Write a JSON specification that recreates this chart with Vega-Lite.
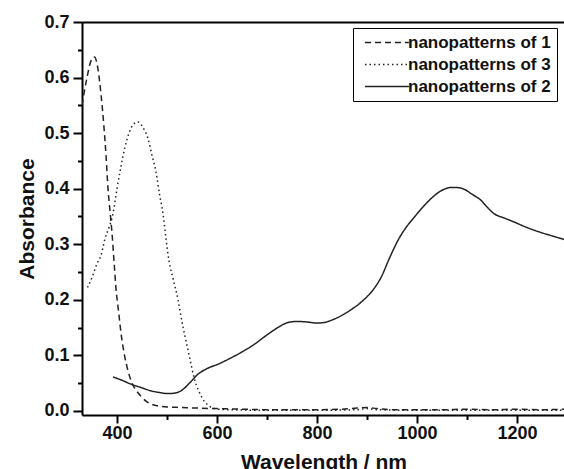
{
  "$schema": "https://vega.github.io/schema/vega-lite/v6.json",
  "width": 483,
  "height": 393,
  "autosize": {"type": "none"},
  "padding": {"left": 82, "top": 22, "right": 0, "bottom": 54},
  "background": "white",
  "config": {
    "view": {"stroke": null},
    "axis": {
      "grid": false,
      "domainColor": "black",
      "domainWidth": 2,
      "tickColor": "black",
      "tickWidth": 2,
      "labelFont": "Liberation Sans",
      "labelFontWeight": "bold",
      "labelFontSize": 18,
      "labelColor": "#111",
      "titleFont": "Liberation Sans",
      "titleFontWeight": "bold",
      "titleFontSize": 21,
      "titleColor": "#111"
    },
    "legend": {
      "labelFont": "Liberation Sans",
      "labelFontWeight": "bold",
      "labelFontSize": 17,
      "labelColor": "#111"
    }
  },
  "data": {
    "values": [
      {"series": "nanopatterns of 1", "wl": 330, "abs": 0.55},
      {"series": "nanopatterns of 1", "wl": 340, "abs": 0.60},
      {"series": "nanopatterns of 1", "wl": 348, "abs": 0.63},
      {"series": "nanopatterns of 1", "wl": 355, "abs": 0.637},
      {"series": "nanopatterns of 1", "wl": 362, "abs": 0.615},
      {"series": "nanopatterns of 1", "wl": 368, "abs": 0.57},
      {"series": "nanopatterns of 1", "wl": 374, "abs": 0.51},
      {"series": "nanopatterns of 1", "wl": 378, "abs": 0.46},
      {"series": "nanopatterns of 1", "wl": 382, "abs": 0.40},
      {"series": "nanopatterns of 1", "wl": 386, "abs": 0.36},
      {"series": "nanopatterns of 1", "wl": 390, "abs": 0.32},
      {"series": "nanopatterns of 1", "wl": 394, "abs": 0.27},
      {"series": "nanopatterns of 1", "wl": 398, "abs": 0.22},
      {"series": "nanopatterns of 1", "wl": 403, "abs": 0.18},
      {"series": "nanopatterns of 1", "wl": 408, "abs": 0.14},
      {"series": "nanopatterns of 1", "wl": 415, "abs": 0.10},
      {"series": "nanopatterns of 1", "wl": 422, "abs": 0.072},
      {"series": "nanopatterns of 1", "wl": 430, "abs": 0.05},
      {"series": "nanopatterns of 1", "wl": 440, "abs": 0.035},
      {"series": "nanopatterns of 1", "wl": 448, "abs": 0.026},
      {"series": "nanopatterns of 1", "wl": 460, "abs": 0.016},
      {"series": "nanopatterns of 1", "wl": 472, "abs": 0.011},
      {"series": "nanopatterns of 1", "wl": 482, "abs": 0.009},
      {"series": "nanopatterns of 1", "wl": 500, "abs": 0.007},
      {"series": "nanopatterns of 1", "wl": 530, "abs": 0.006},
      {"series": "nanopatterns of 1", "wl": 560, "abs": 0.005},
      {"series": "nanopatterns of 1", "wl": 600, "abs": 0.004},
      {"series": "nanopatterns of 1", "wl": 650, "abs": 0.003},
      {"series": "nanopatterns of 1", "wl": 700, "abs": 0.002},
      {"series": "nanopatterns of 1", "wl": 750, "abs": 0.002},
      {"series": "nanopatterns of 1", "wl": 800, "abs": 0.002},
      {"series": "nanopatterns of 1", "wl": 850, "abs": 0.003},
      {"series": "nanopatterns of 1", "wl": 880, "abs": 0.005},
      {"series": "nanopatterns of 1", "wl": 900, "abs": 0.006},
      {"series": "nanopatterns of 1", "wl": 920, "abs": 0.004},
      {"series": "nanopatterns of 1", "wl": 950, "abs": 0.002},
      {"series": "nanopatterns of 1", "wl": 1000, "abs": 0.002},
      {"series": "nanopatterns of 1", "wl": 1050, "abs": 0.002},
      {"series": "nanopatterns of 1", "wl": 1100, "abs": 0.003},
      {"series": "nanopatterns of 1", "wl": 1150, "abs": 0.002},
      {"series": "nanopatterns of 1", "wl": 1200, "abs": 0.003},
      {"series": "nanopatterns of 1", "wl": 1250, "abs": 0.002},
      {"series": "nanopatterns of 1", "wl": 1296, "abs": 0.003},

      {"series": "nanopatterns of 3", "wl": 341, "abs": 0.222},
      {"series": "nanopatterns of 3", "wl": 350, "abs": 0.24},
      {"series": "nanopatterns of 3", "wl": 360, "abs": 0.265},
      {"series": "nanopatterns of 3", "wl": 368, "abs": 0.28},
      {"series": "nanopatterns of 3", "wl": 376, "abs": 0.31},
      {"series": "nanopatterns of 3", "wl": 384, "abs": 0.33},
      {"series": "nanopatterns of 3", "wl": 392, "abs": 0.355},
      {"series": "nanopatterns of 3", "wl": 400, "abs": 0.40},
      {"series": "nanopatterns of 3", "wl": 408, "abs": 0.44},
      {"series": "nanopatterns of 3", "wl": 416, "abs": 0.475},
      {"series": "nanopatterns of 3", "wl": 424, "abs": 0.50},
      {"series": "nanopatterns of 3", "wl": 432, "abs": 0.515},
      {"series": "nanopatterns of 3", "wl": 442, "abs": 0.52},
      {"series": "nanopatterns of 3", "wl": 452, "abs": 0.51},
      {"series": "nanopatterns of 3", "wl": 462, "abs": 0.49},
      {"series": "nanopatterns of 3", "wl": 470, "abs": 0.46},
      {"series": "nanopatterns of 3", "wl": 478, "abs": 0.43},
      {"series": "nanopatterns of 3", "wl": 485, "abs": 0.39},
      {"series": "nanopatterns of 3", "wl": 492, "abs": 0.355},
      {"series": "nanopatterns of 3", "wl": 498, "abs": 0.31},
      {"series": "nanopatterns of 3", "wl": 504, "abs": 0.27},
      {"series": "nanopatterns of 3", "wl": 513, "abs": 0.235},
      {"series": "nanopatterns of 3", "wl": 522, "abs": 0.20},
      {"series": "nanopatterns of 3", "wl": 530, "abs": 0.16},
      {"series": "nanopatterns of 3", "wl": 538, "abs": 0.126},
      {"series": "nanopatterns of 3", "wl": 546, "abs": 0.093},
      {"series": "nanopatterns of 3", "wl": 554, "abs": 0.06},
      {"series": "nanopatterns of 3", "wl": 564, "abs": 0.035},
      {"series": "nanopatterns of 3", "wl": 574, "abs": 0.018},
      {"series": "nanopatterns of 3", "wl": 584, "abs": 0.009},
      {"series": "nanopatterns of 3", "wl": 594, "abs": 0.004},
      {"series": "nanopatterns of 3", "wl": 620, "abs": 0.002},
      {"series": "nanopatterns of 3", "wl": 700, "abs": 0.001},
      {"series": "nanopatterns of 3", "wl": 800, "abs": 0.001},
      {"series": "nanopatterns of 3", "wl": 880, "abs": 0.002},
      {"series": "nanopatterns of 3", "wl": 900, "abs": 0.004},
      {"series": "nanopatterns of 3", "wl": 920, "abs": 0.002},
      {"series": "nanopatterns of 3", "wl": 1000, "abs": 0.001},
      {"series": "nanopatterns of 3", "wl": 1100, "abs": 0.001},
      {"series": "nanopatterns of 3", "wl": 1200, "abs": 0.001},
      {"series": "nanopatterns of 3", "wl": 1296, "abs": 0.001},

      {"series": "nanopatterns of 2", "wl": 392, "abs": 0.061},
      {"series": "nanopatterns of 2", "wl": 410, "abs": 0.055},
      {"series": "nanopatterns of 2", "wl": 428, "abs": 0.048},
      {"series": "nanopatterns of 2", "wl": 448, "abs": 0.042},
      {"series": "nanopatterns of 2", "wl": 468, "abs": 0.036},
      {"series": "nanopatterns of 2", "wl": 485, "abs": 0.033},
      {"series": "nanopatterns of 2", "wl": 502, "abs": 0.031},
      {"series": "nanopatterns of 2", "wl": 516, "abs": 0.032},
      {"series": "nanopatterns of 2", "wl": 528, "abs": 0.036},
      {"series": "nanopatterns of 2", "wl": 545, "abs": 0.05},
      {"series": "nanopatterns of 2", "wl": 562, "abs": 0.066},
      {"series": "nanopatterns of 2", "wl": 580, "abs": 0.076},
      {"series": "nanopatterns of 2", "wl": 602, "abs": 0.084},
      {"series": "nanopatterns of 2", "wl": 625, "abs": 0.094},
      {"series": "nanopatterns of 2", "wl": 648, "abs": 0.105},
      {"series": "nanopatterns of 2", "wl": 675, "abs": 0.12},
      {"series": "nanopatterns of 2", "wl": 702, "abs": 0.138},
      {"series": "nanopatterns of 2", "wl": 722, "abs": 0.15},
      {"series": "nanopatterns of 2", "wl": 742, "abs": 0.159},
      {"series": "nanopatterns of 2", "wl": 760, "abs": 0.161},
      {"series": "nanopatterns of 2", "wl": 780, "abs": 0.16},
      {"series": "nanopatterns of 2", "wl": 800, "abs": 0.158},
      {"series": "nanopatterns of 2", "wl": 814, "abs": 0.159},
      {"series": "nanopatterns of 2", "wl": 834, "abs": 0.165},
      {"series": "nanopatterns of 2", "wl": 848, "abs": 0.171},
      {"series": "nanopatterns of 2", "wl": 868, "abs": 0.182},
      {"series": "nanopatterns of 2", "wl": 890, "abs": 0.197},
      {"series": "nanopatterns of 2", "wl": 914, "abs": 0.22},
      {"series": "nanopatterns of 2", "wl": 928, "abs": 0.24},
      {"series": "nanopatterns of 2", "wl": 945, "abs": 0.275},
      {"series": "nanopatterns of 2", "wl": 962, "abs": 0.307},
      {"series": "nanopatterns of 2", "wl": 978, "abs": 0.33},
      {"series": "nanopatterns of 2", "wl": 994, "abs": 0.348},
      {"series": "nanopatterns of 2", "wl": 1010, "abs": 0.365},
      {"series": "nanopatterns of 2", "wl": 1028, "abs": 0.382},
      {"series": "nanopatterns of 2", "wl": 1048, "abs": 0.396},
      {"series": "nanopatterns of 2", "wl": 1068, "abs": 0.402},
      {"series": "nanopatterns of 2", "wl": 1080, "abs": 0.402},
      {"series": "nanopatterns of 2", "wl": 1094, "abs": 0.399},
      {"series": "nanopatterns of 2", "wl": 1110, "abs": 0.39},
      {"series": "nanopatterns of 2", "wl": 1128, "abs": 0.379},
      {"series": "nanopatterns of 2", "wl": 1140, "abs": 0.367},
      {"series": "nanopatterns of 2", "wl": 1154, "abs": 0.355},
      {"series": "nanopatterns of 2", "wl": 1175, "abs": 0.347},
      {"series": "nanopatterns of 2", "wl": 1194, "abs": 0.34},
      {"series": "nanopatterns of 2", "wl": 1220, "abs": 0.33},
      {"series": "nanopatterns of 2", "wl": 1248, "abs": 0.321},
      {"series": "nanopatterns of 2", "wl": 1270, "abs": 0.315},
      {"series": "nanopatterns of 2", "wl": 1296, "abs": 0.308}
    ]
  },
  "resolve": {"axis": {"x": "independent", "y": "independent"}},
  "layer": [
    {
      "mark": {"type": "line", "strokeOpacity": 0},
      "encoding": {
        "detail": {"field": "series", "type": "nominal"},
        "x": {
          "field": "wl",
          "type": "quantitative",
          "scale": {"domain": [330, 1296], "nice": false, "zero": false},
          "axis": {"orient": "top", "title": null, "labels": false, "ticks": false, "domain": true}
        },
        "y": {
          "field": "abs",
          "type": "quantitative",
          "scale": {"domain": [-0.0075, 0.7], "nice": false, "zero": false},
          "axis": {
            "orient": "left",
            "title": null,
            "labels": false,
            "domain": false,
            "values": [0.05, 0.15, 0.25, 0.35, 0.45, 0.55, 0.65],
            "tickSize": 4.5
          }
        }
      }
    },
    {
      "mark": {"type": "line", "strokeOpacity": 0},
      "encoding": {
        "detail": {"field": "series", "type": "nominal"},
        "x": {
          "field": "wl",
          "type": "quantitative",
          "axis": {
            "orient": "bottom",
            "title": null,
            "labels": false,
            "domain": false,
            "values": [500, 700, 900, 1100],
            "tickSize": 4.5
          }
        },
        "y": {"field": "abs", "type": "quantitative", "axis": null}
      }
    },
    {
      "mark": {"type": "line", "color": "#222", "strokeWidth": 1.5, "interpolate": "monotone", "clip": true},
      "encoding": {
        "x": {
          "field": "wl",
          "type": "quantitative",
          "axis": {
            "orient": "bottom",
            "title": "Wavelength / nm",
            "values": [400, 600, 800, 1000, 1200],
            "format": "d",
            "tickSize": 8,
            "labelPadding": 1,
            "labelFlush": false,
            "titlePadding": 9
          }
        },
        "y": {
          "field": "abs",
          "type": "quantitative",
          "axis": {
            "orient": "left",
            "title": "Absorbance",
            "values": [0, 0.1, 0.2, 0.3, 0.4, 0.5, 0.6, 0.7],
            "format": ".1f",
            "tickSize": 9,
            "labelPadding": 4,
            "labelFlush": false,
            "titlePadding": 6
          }
        },
        "strokeDash": {
          "field": "series",
          "type": "nominal",
          "scale": {
            "domain": ["nanopatterns of 1", "nanopatterns of 3", "nanopatterns of 2"],
            "range": [[6, 4], [1.5, 3], [1, 0]]
          },
          "legend": {
            "title": null,
            "orient": "none",
            "legendX": 271,
            "legendY": 6,
            "strokeColor": "black",
            "fillColor": "white",
            "padding": 6,
            "symbolType": "M-0.56,0H9.2",
            "symbolSize": 81,
            "symbolStrokeWidth": 1.5,
            "symbolStrokeColor": "#222",
            "labelOffset": 32,
            "rowPadding": 4
          }
        }
      }
    }
  ]
}
